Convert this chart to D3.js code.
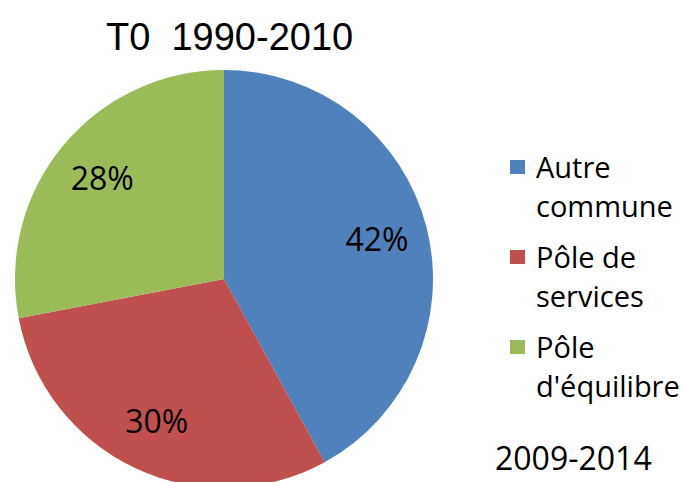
<!DOCTYPE html>
<html>
<head>
<meta charset="utf-8">
<script src="https://cdn.jsdelivr.net/npm/d3@7.9.0/dist/d3.min.js"></script>
<style>
  html, body { margin: 0; padding: 0; background: #fff; }
  svg { display: block; }
  text { fill: #000; }
</style>
</head>
<body>
<svg width="684" height="482"></svg>
<script>
// chart values
const categories = ["Autre commune", "Pôle de services", "Pôle d'équilibre"];
const legendLines = [["Autre", "commune"], ["Pôle de", "services"], ["Pôle", "d'équilibre"]];
const values = [42, 30, 28];
const colors = ["#4F81BD", "#C0504D", "#9BBB59"];
const title = "T0  1990-2010";
const subtitle = "2009-2014";

const svg = d3.select("svg");

const cx = 224, cy = 279, radius = 209;

let pie = d3.pie().sort(null).value((d) => d);
let arcData = pie(values);
let arcGenerator = d3.arc().innerRadius(0).outerRadius(radius);
let labelArc = d3.arc().innerRadius(158).outerRadius(158);

let g = svg.append("g").attr("transform", `translate(${cx},${cy})`);

g.selectAll("path")
  .data(arcData)
  .join("path")
  .attr("d", arcGenerator)
  .attr("fill", (d, i) => colors[i]);

g.selectAll("text.pct")
  .data(arcData)
  .join("text")
  .attr("class", "pct")
  .attr("transform", (d) => `translate(${labelArc.centroid(d)})`)
  .attr("text-anchor", "middle")
  .attr("dy", "0.36em")
  .style("font-family", "'Open Sans', sans-serif")
  .style("font-size", "32px")
  .text((d) => `${d.data}%`);

// title
svg.append("text")
  .attr("x", 106)
  .attr("y", 50)
  .attr("xml:space", "preserve")
  .style("white-space", "pre")
  .style("font-family", "'Liberation Sans', Arial, sans-serif")
  .style("font-size", "38px")
  .text(title);

// legend
let legend = svg.append("g");
categories.forEach((c, i) => {
  let y0 = 178 + i * 90;
  legend.append("rect")
    .attr("x", 510)
    .attr("y", y0 - 18)
    .attr("width", 15)
    .attr("height", 14)
    .attr("fill", colors[i]);
  legendLines[i].forEach((line, j) => {
    legend.append("text")
      .attr("x", 536)
      .attr("y", y0 + j * 39)
      .style("font-family", "'Open Sans', sans-serif")
      .style("font-size", "29px")
      .text(line);
  });
});

svg.append("text")
  .attr("x", 495)
  .attr("y", 470)
  .style("font-family", "'Open Sans', sans-serif")
  .style("font-size", "32px")
  .text(subtitle);
</script>
</body>
</html>
